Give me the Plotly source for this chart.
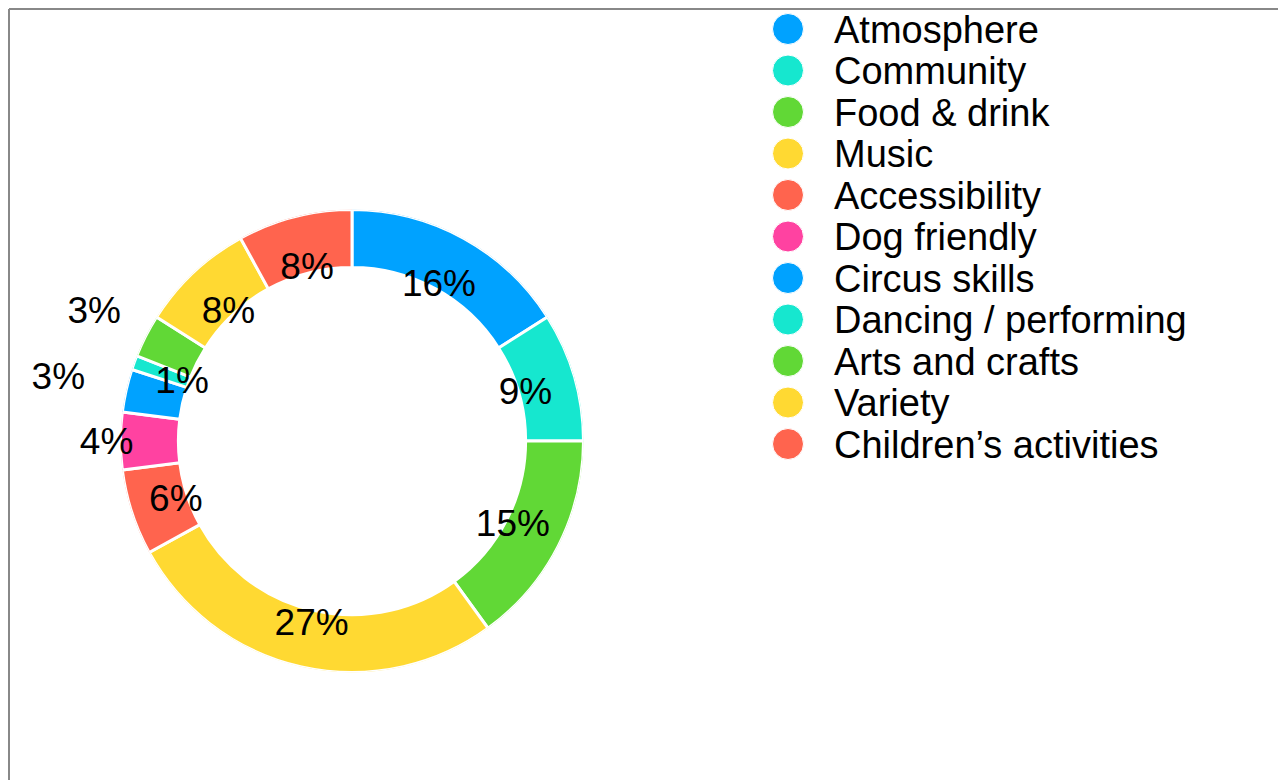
import plotly.graph_objects as go

# ---- data ----
categories = ["Atmosphere", "Community", "Food & drink", "Music", "Accessibility",
              "Dog friendly", "Circus skills", "Dancing / performing", "Arts and crafts",
              "Variety", "Children’s activities"]
values = [16, 9, 15, 27, 6, 4, 3, 1, 3, 8, 8]
colors = ["#00A2FF", "#16E7CF", "#61D836", "#FFD932", "#FF644E",
          "#FF42A1", "#00A2FF", "#16E7CF", "#61D836", "#FFD932", "#FF644E"]
# label distance from centre, as a fraction of the outer radius (style)
label_radius = [0.78, 0.78, 0.78, 0.80, 0.80, 1.06, 1.30, 0.78, 1.25, 0.78, 0.78]

W, H = 1286, 780
OFF = 8  # page body margin
CX, CY, R = 352 - OFF, 441 - OFF, 231.5
HOLE = 0.75
RMAX = 1.4
FONT = "Liberation Sans, Arial, Helvetica, sans-serif"


def dom(cx, cy, rad):
    return dict(x=[(cx - rad) / W, (cx + rad) / W], y=[1 - (cy + rad) / H, 1 - (cy - rad) / H])


total = sum(values)
mid_theta, widths = [], []
cum = 0
for v in values:
    mid_theta.append((cum + v / 2) / total * 360)
    widths.append(v / total * 360)
    cum += v
pct_text = [f"{round(v / total * 100)}%" for v in values]

fig = go.Figure()

# donut ring
fig.add_trace(go.Barpolar(
    theta=mid_theta, width=widths, r=[1 - HOLE] * len(values), base=[HOLE] * len(values),
    marker=dict(color=colors, line=dict(color="white", width=3)),
    text=categories, hoverinfo="text", showlegend=False, subplot="polar",
))

# percentage labels
fig.add_trace(go.Scatterpolar(
    r=label_radius, theta=mid_theta, mode="text", text=pct_text,
    textposition="middle center", textfont=dict(family=FONT, size=37, color="black"),
    cliponaxis=False, showlegend=False, hoverinfo="skip", subplot="polar2",
))

# custom legend
idx = list(range(len(categories)))
fig.add_trace(go.Scatter(
    x=[0] * len(categories), y=idx, mode="markers", xaxis="x", yaxis="y",
    marker=dict(size=31, color=colors, line=dict(color="white", width=1)),
    showlegend=False, hoverinfo="skip", cliponaxis=False,
))
fig.add_trace(go.Scatter(
    x=[1] * len(categories), y=idx, mode="text", text=categories, xaxis="x", yaxis="y2",
    textposition="middle right", textfont=dict(family=FONT, size=38, color="black"),
    showlegend=False, hoverinfo="skip", cliponaxis=False,
))

row0, row_h = 29 - OFF, 41.5
TXT_DY = 4


def ydom(shift):
    return [1 - (row0 + shift + 10.5 * row_h) / H, 1 - (row0 + shift - 0.5 * row_h) / H]


hidden_polar = dict(
    bgcolor="rgba(0,0,0,0)",
    angularaxis=dict(rotation=90, direction="clockwise", visible=False,
                     showgrid=False, showline=False),
    hole=0,
)
fig.update_layout(
    width=W, height=H,
    margin=dict(l=0, r=0, t=0, b=0),
    paper_bgcolor="white", plot_bgcolor="rgba(0,0,0,0)",
    showlegend=False,
    font=dict(family=FONT, color="black"),
    polar=dict(domain=dom(CX, CY, R),
               radialaxis=dict(range=[0, 1], visible=False, showgrid=False, showline=False),
               **hidden_polar),
    polar2=dict(domain=dom(CX, CY + 4, R * RMAX),
                radialaxis=dict(range=[0, RMAX], visible=False, showgrid=False, showline=False),
                **hidden_polar),
    xaxis=dict(domain=[(788 - OFF) / W, (834 - OFF) / W], range=[0, 1], visible=False,
               fixedrange=True),
    yaxis=dict(domain=ydom(0), range=[10.5, -0.5], visible=False, fixedrange=True),
    yaxis2=dict(domain=ydom(TXT_DY), range=[10.5, -0.5], visible=False, fixedrange=True,
                anchor="x"),
    shapes=[
        dict(type="line", xref="paper", yref="paper", x0=1 / W, x1=1.05, y0=1 - 1 / H, y1=1 - 1 / H,
             line=dict(color="#888888", width=2)),
        dict(type="line", xref="paper", yref="paper", x0=1 / W, x1=1 / W, y0=-0.05, y1=1 - 1 / H,
             line=dict(color="#888888", width=2)),
    ],
)

fig.write_html("out.html")
